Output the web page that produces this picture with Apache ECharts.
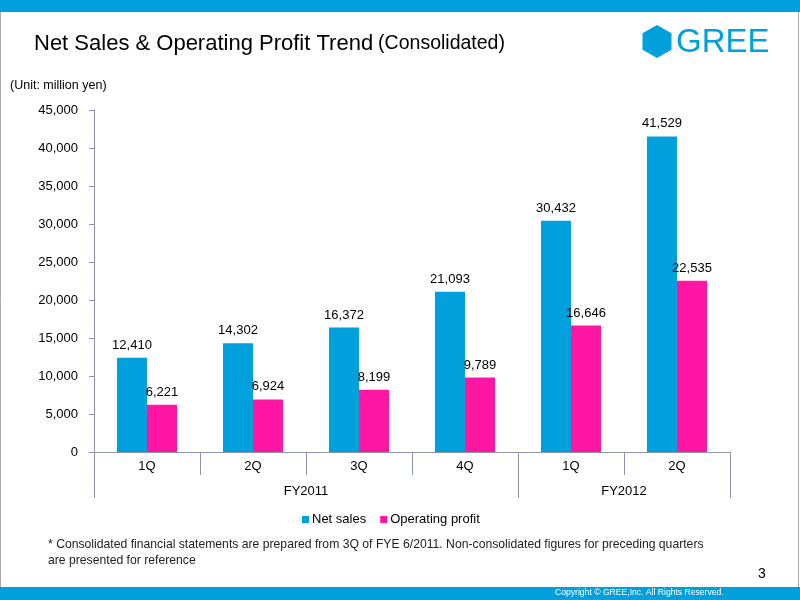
<!DOCTYPE html>
<html>
<head>
<meta charset="utf-8">
<script src="https://cdn.jsdelivr.net/npm/echarts@6/dist/echarts.min.js"></script>
<style>
  html, body { margin: 0; padding: 0; background: #fff; }
  #main { width: 800px; height: 600px; }
</style>
</head>
<body>
<div id="main"></div>
<script>
// quarters and fiscal years
const quarters = ['1Q', '2Q', '3Q', '4Q', '1Q', '2Q'];
const fiscalYears = ['FY2011', 'FY2012'];
const fyCenters = [2, 5];       // middle of each year group, in quarter units
const fyBounds = [0, 4, 6];     // group borders
const netSales = [12410, 14302, 16372, 21093, 30432, 41529];
const opProfit = [6221, 6924, 8199, 9789, 16646, 22535];

const blue = '#00A0DC';
const pink = '#FF17A3';
const axisColor = '#8C95A8';
const font = 'Liberation Sans, Arial, sans-serif';

function fmt(v) {
    return Number(v).toLocaleString('en-US');
}

var chart = echarts.init(document.getElementById('main'));

var option = {
    backgroundColor: '#fff',
    animation: false,
    textStyle: { fontFamily: font },
    title: {
        text: '{a|Net Sales & Operating Profit Trend} {b|(Consolidated)}',
        left: 29,
        top: 28,
        textStyle: {
            fontWeight: 'normal',
            rich: {
                a: { fontSize: 22, color: '#000', fontFamily: font, fontWeight: 'normal' },
                b: { fontSize: 19.5, color: '#000', fontFamily: font, fontWeight: 'normal' }
            }
        }
    },
    legend: {
        data: ['Net sales', 'Operating profit'],
        left: 297,
        top: 508,
        icon: 'rect',
        itemWidth: 7,
        itemHeight: 7,
        itemGap: 14,
        textStyle: { fontSize: 13, color: '#000', fontFamily: font, padding: [0, 0, 0, -2] }
    },
    grid: { left: 94, right: 70, top: 110, bottom: 148 },
    xAxis: [
        {
            type: 'category',
            data: quarters,
            axisLine: { show: true, lineStyle: { color: axisColor } },
            axisTick: { show: true, interval: 0, length: 23, lineStyle: { color: axisColor } },
            axisLabel: { interval: 0, fontSize: 13, color: '#000', margin: 8 }
        },
        {
            type: 'value',
            position: 'bottom',
            min: 0,
            max: 6,
            offset: 0,
            axisLine: { show: false },
            splitLine: { show: false },
            axisTick: {
                show: true,
                customValues: fyBounds,
                length: 46,
                lineStyle: { color: axisColor }
            },
            axisLabel: {
                customValues: fyCenters,
                fontSize: 13,
                color: '#000',
                margin: 33,
                formatter: function (v) {
                    return fiscalYears[fyCenters.indexOf(v)];
                }
            }
        }
    ],
    yAxis: {
        type: 'value',
        min: 0,
        max: 45000,
        interval: 5000,
        axisLine: { show: true, lineStyle: { color: axisColor } },
        axisTick: { show: true, length: 5, lineStyle: { color: axisColor } },
        splitLine: { show: false },
        axisLabel: {
            fontSize: 13,
            color: '#000',
            margin: 16,
            formatter: fmt
        }
    },
    series: [
        {
            name: 'Net sales',
            type: 'bar',
            data: netSales,
            barWidth: 30,
            barGap: '0%',
            itemStyle: { color: blue },
            label: {
                show: true,
                position: 'top',
                distance: 6,
                fontSize: 13,
                color: '#000',
                formatter: function (p) { return fmt(p.value); }
            }
        },
        {
            name: 'Operating profit',
            type: 'bar',
            data: opProfit,
            barWidth: 30,
            barGap: '0%',
            itemStyle: { color: pink },
            label: {
                show: true,
                position: 'top',
                distance: 6,
                fontSize: 13,
                color: '#000',
                formatter: function (p) { return fmt(p.value); }
            }
        }
    ],
    graphic: [
        // top and bottom bands
        { type: 'rect', shape: { x: 0, y: 0, width: 800, height: 12 }, style: { fill: blue }, silent: true },
        { type: 'rect', shape: { x: 0, y: 587, width: 800, height: 13 }, style: { fill: blue }, silent: true },
        // page border
        { type: 'line', shape: { x1: 0.5, y1: 12, x2: 0.5, y2: 587 }, style: { stroke: '#aaa', lineWidth: 1 }, silent: true },
        { type: 'line', shape: { x1: 798.5, y1: 12, x2: 798.5, y2: 587 }, style: { stroke: '#aaa', lineWidth: 1 }, silent: true },
        // GREE logo
        {
            type: 'polygon',
            shape: { points: [[657, 25], [671.5, 33.3], [671.5, 49.8], [657, 58], [642.5, 49.8], [642.5, 33.3]] },
            style: { fill: blue },
            silent: true
        },
        {
            type: 'text', left: 676, top: 26,
            style: { text: 'GREE', fontSize: 33, fill: blue, fontFamily: font }
        },
        {
            type: 'text', left: 10, top: 79,
            style: { text: '(Unit: million yen)', fontSize: 12.5, fill: '#000', fontFamily: font }
        },
        {
            type: 'text', left: 48, top: 537,
            style: {
                text: '* Consolidated financial statements are prepared from 3Q of FYE 6/2011. Non-consolidated figures for preceding quarters\nare presented for reference',
                fontSize: 12.2, lineHeight: 16, fill: '#222', fontFamily: font
            }
        },
        {
            type: 'text', left: 758, top: 567,
            style: { text: '3', fontSize: 14, fill: '#000', fontFamily: font }
        },
        {
            type: 'text', left: 555, top: 588,
            style: { text: 'Copyright \u00a9 GREE,Inc. All Rights Reserved.', fontSize: 8.6, fill: '#fff', fontFamily: font }
        }
    ]
};

chart.setOption(option);
</script>
</body>
</html>
